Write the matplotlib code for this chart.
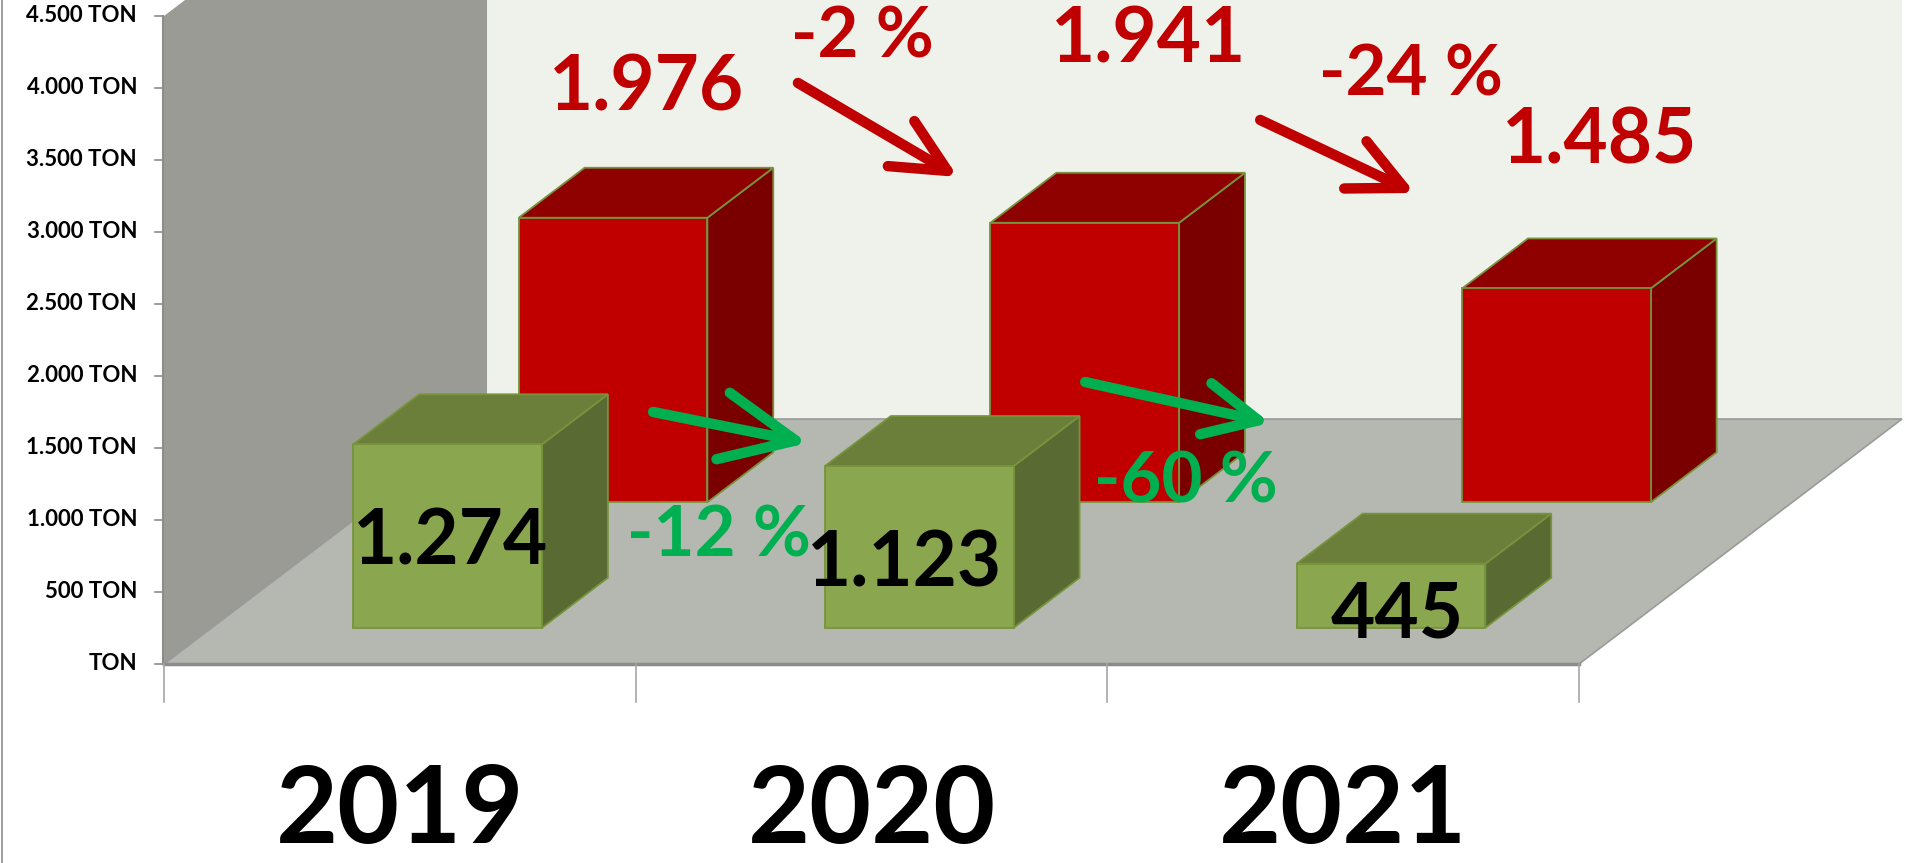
import numpy as np
import matplotlib
matplotlib.use("Agg")
import matplotlib.pyplot as plt
from matplotlib.patches import Polygon

plt.rcParams['font.family'] = ['Lato', 'DejaVu Sans']

#------------------------------------------------------------------------------
# data
years = ['2019', '2020', '2021']
front_series = [1274, 1123, 445]     # green boxes (front row)
back_series = [1976, 1941, 1485]     # red boxes (back row)
back_pct = ['-2 %', '-24 %']         # as written on the slide
front_pct = ['-12 %', '-60 %']
y_ticks = [0, 500, 1000, 1500, 2000, 2500, 3000, 3500, 4000, 4500]

# hand placed labels (category units, tons) - like the text boxes in the original
front_label_pos = [(0.608, 688), (1.571, 535), (2.614, 181)]
back_label_pos = [(1.022, 3847), (2.088, 4174), (3.044, 3479)]
back_pct_pos = [(1.480, 4215), (2.644, 3951)]
front_pct_pos = [(1.177, 743), (2.167, 1118)]
back_arrows = [((1.344, 4035), (1.683, 3382)), ((2.324, 3778), (2.652, 3271))]
front_arrows = [((1.037, 1750), (1.365, 1535)), ((1.953, 1958), (2.345, 1674))]

#------------------------------------------------------------------------------
# oblique "3d" helpers
DX = 0.6848      # horizontal shift of the full depth (category units)
DY = 1701.4      # vertical shift of the full depth (tons)
BAR_W = 0.40
BOX_D = 0.204
ROW_Z = {'front': 0.148, 'back': 0.660}


def proj(c, v, z):
    return (c + z * DX, v + z * DY)


def box(ax, c0, c1, z0, z1, h, colors, zo):
    p = lambda c, v, z: proj(c, v, z)
    side = [p(c1, 0, z0), p(c1, 0, z1), p(c1, h, z1), p(c1, h, z0)]
    top = [p(c0, h, z0), p(c1, h, z0), p(c1, h, z1), p(c0, h, z1)]
    front = [p(c0, 0, z0), p(c1, 0, z0), p(c1, h, z0), p(c0, h, z0)]
    for pts, col in [(side, colors[2]), (top, colors[1]), (front, colors[0])]:
        ax.add_patch(Polygon(pts, closed=True, facecolor=col, edgecolor='#77933c',
                             lw=1.3, zorder=zo))


fig = plt.figure(figsize=(19.05, 8.63), dpi=100)
ax = fig.add_axes([0, 0, 1, 1])
ax.set_xlim(-0.3477, 3.691)
ax.set_ylim(-1382, 4611)
ax.axis('off')

ymax = y_ticks[-1]
ncat = len(years)

# walls and floor
back_wall = [proj(0, 0, 1), proj(ncat, 0, 1), proj(ncat, ymax, 1), proj(0, ymax, 1)]
left_wall = [proj(0, 0, 0), proj(0, 0, 1), proj(0, ymax, 1), proj(0, ymax, 0)]
floor = [proj(0, 0, 0), proj(ncat, 0, 0), proj(ncat, 0, 1), proj(0, 0, 1)]
ax.add_patch(Polygon(back_wall, facecolor='#eff2eb', edgecolor='none', zorder=1))
ax.add_patch(Polygon(left_wall, facecolor='#999b94', edgecolor='none', zorder=1))
ax.add_patch(Polygon(floor, facecolor='#b5b8b0', edgecolor='#9a9a9a', lw=1.2, zorder=2))
ax.plot([0, ncat], [0, 0], color='#8c8c8c', lw=2.5, zorder=3)

# value axis
ax.plot([-0.002, -0.002], [0, ymax], color='#8c8c8c', lw=1.5, zorder=3)
for t in y_ticks:
    ax.plot([-0.019, -0.002], [t, t], color='#8c8c8c', lw=1.2, zorder=3)
    lab = 'TON' if t == 0 else f'{t:,.0f}'.replace(',', '.') + ' TON'
    ax.text(-0.057, t, lab, ha='right', va='center', fontsize=16,
            fontweight='bold', color='black')

# category ticks and labels
for i in range(ncat + 1):
    ax.plot([i, i], [0, -265], color='#a6a6a6', lw=1.2, zorder=3)
for i, yr in enumerate(years):
    ax.text(i + 0.5, -1370, yr, ha='center', va='bottom', fontsize=77,
            fontweight='bold', color='black')

# boxes: back row first
red = ('#c00000', '#8f0000', '#7a0000')
green = ('#8aa64e', '#6b7f3b', '#596b32')
for i, val in enumerate(back_series):
    z0 = ROW_Z['back']
    box(ax, i + 0.5 - BAR_W / 2, i + 0.5 + BAR_W / 2, z0, z0 + BOX_D, val, red, 4)
for i, val in enumerate(front_series):
    z0 = ROW_Z['front']
    box(ax, i + 0.5 - BAR_W / 2, i + 0.5 + BAR_W / 2, z0, z0 + BOX_D, val, green, 5)

# value labels
for (c, v), val in zip(front_label_pos, front_series):
    ax.text(c, v, f'{val:,}'.replace(',', '.'), ha='center', va='baseline',
            fontsize=55, fontweight='bold', color='black', zorder=8)
for (c, v), val in zip(back_label_pos, back_series):
    ax.text(c, v, f'{val:,}'.replace(',', '.'), ha='center', va='baseline',
            fontsize=55, fontweight='bold', color='#c00000', zorder=8)

# percent changes
for (c, v), txt in zip(back_pct_pos, back_pct):
    ax.text(c, v, txt, ha='center', va='baseline', fontsize=51,
            fontweight='bold', color='#c00000', zorder=8)
for (c, v), txt in zip(front_pct_pos, front_pct):
    ax.text(c, v, txt, ha='center', va='baseline', fontsize=51,
            fontweight='bold', color='#00b050', zorder=8)

# arrows
head_sizes = {'back': [(0.97, 0.47), (0.97, 0.47)], 'front': [(1.33, 0.61), (0.97, 0.47)]}
for key, arrows, col in [('back', back_arrows, '#c00000'), ('front', front_arrows, '#00b050')]:
    for (tail, tip), (hl, hw) in zip(arrows, head_sizes[key]):
        ax.annotate('', xy=tip, xytext=tail, zorder=7,
                    arrowprops=dict(arrowstyle=f'->,head_length={hl},head_width={hw}',
                                    lw=7.5, color=col, mutation_scale=40,
                                    shrinkA=0, shrinkB=0, capstyle='round',
                                    joinstyle='round'))

# thin frame line on the far left
fig.add_artist(plt.Line2D([0.0008, 0.0008], [0, 1], color='#8c8c8c', lw=1.2))

plt.savefig('out.png', dpi=100)
